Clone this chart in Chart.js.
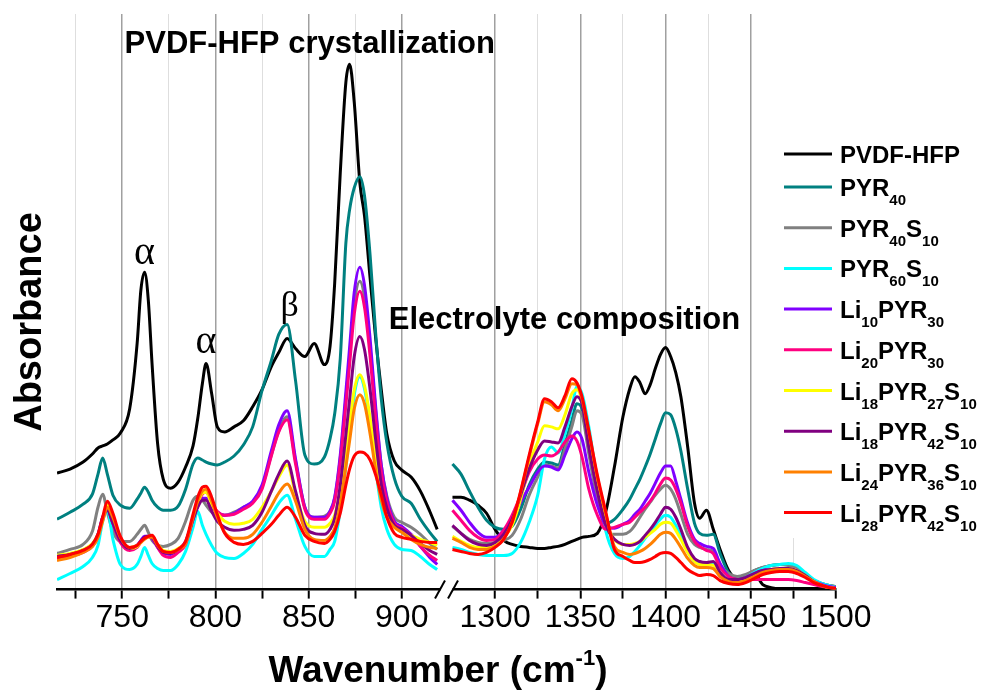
<!DOCTYPE html>
<html>
<head>
<meta charset="utf-8">
<title>PVDF-HFP FTIR</title>
<script src="https://cdn.jsdelivr.net/npm/chart.js@4.4.0/dist/chart.umd.min.js"></script>
<style>
  html, body { margin: 0; padding: 0; background: #fff; }
  #wrap { width: 981px; height: 694px; }
</style>
</head>
<body>
<div id="wrap"><canvas id="myChart" width="981" height="694"></canvas></div>
<script>
"use strict"
// wavenumbers (cm-1) for the two parts of the broken axis
let wnLow = [715, 722, 729, 734, 737, 739.5, 742, 745, 749, 754, 758, 760, 762, 764, 766, 769, 772, 776, 780, 784,
    788, 790.5, 793, 795, 798, 801, 805, 810, 815, 820, 825, 830, 834, 838.5, 843, 848, 853, 858.5, 861.5, 864,
    867, 870, 872, 874.5, 877.5, 880, 883, 886, 889, 892, 896, 900, 905, 910, 915, 919];
let wnHigh = [1275, 1280, 1285, 1290, 1295, 1300, 1305, 1310, 1315, 1320, 1325, 1329, 1333, 1337, 1341, 1345, 1348,
    1351, 1355, 1360, 1365, 1370, 1375, 1379, 1382, 1385, 1388, 1391, 1394, 1397, 1400, 1403, 1406, 1409, 1413,
    1417, 1420, 1424, 1428, 1432, 1437, 1442, 1447, 1452, 1457, 1462, 1467, 1472, 1477, 1482, 1487, 1492, 1496, 1500];
let tickLow = [725, 750, 775, 800, 825, 850, 875, 900];
let tickHigh = [1300, 1325, 1350, 1375, 1400, 1425, 1450, 1475, 1500];

// "_" marks a subscript number
let labels = ['PVDF-HFP', 'PYR_40', 'PYR_40S_10', 'PYR_60S_10', 'Li_10PYR_30', 'Li_20PYR_30',
    'Li_18PYR_27S_10', 'Li_18PYR_42S_10', 'Li_24PYR_36S_10', 'Li_28PYR_42S_10'];
let colors = ['#000000', '#008080', '#808080', '#00ffff', '#8000ff', '#ff0080', '#ffff00', '#800080', '#ff8000', '#ff0000'];

// absorbance (a.u.), 700-920 cm-1 part
let pvdfLow = [1.16, 1.20, 1.27, 1.35, 1.41, 1.43, 1.45, 1.49, 1.56, 1.80, 2.45, 2.98, 3.16, 2.88, 2.25, 1.45, 1.10, 1.01, 1.07, 1.22,
    1.43, 1.70, 2.05, 2.25, 1.95, 1.62, 1.57, 1.62, 1.68, 1.82, 1.99, 2.22, 2.36, 2.50, 2.40, 2.32, 2.45, 2.24, 2.42, 3.05,
    4.15, 5.05, 5.23, 4.85, 4.05, 3.72, 3.10, 2.50, 1.99, 1.55, 1.28, 1.19, 1.12, 0.98, 0.78, 0.60];
let pyr40Low = [0.70, 0.77, 0.85, 0.95, 1.15, 1.31, 1.15, 0.94, 0.84, 0.81, 0.90, 0.96, 1.02, 0.97, 0.89, 0.82, 0.79, 0.79, 0.83, 1.00,
    1.25, 1.31, 1.29, 1.27, 1.25, 1.24, 1.27, 1.33, 1.44, 1.62, 1.98, 2.28, 2.54, 2.64, 2.08, 1.34, 1.25, 1.32, 1.50, 1.75,
    2.30, 3.45, 3.78, 4.00, 4.11, 3.92, 3.33, 2.55, 1.90, 1.46, 1.11, 0.93, 0.86, 0.70, 0.57, 0.48];
let pyr40s10Low = [0.36, 0.40, 0.45, 0.58, 0.82, 0.95, 0.77, 0.58, 0.48, 0.48, 0.55, 0.60, 0.64, 0.57, 0.49, 0.44, 0.43, 0.45, 0.51, 0.68,
    0.89, 0.93, 0.89, 0.84, 0.77, 0.74, 0.74, 0.77, 0.82, 0.87, 1.02, 1.34, 1.58, 1.72, 1.28, 0.82, 0.72, 0.73, 0.78, 0.91,
    1.31, 1.90, 2.32, 2.84, 3.07, 2.91, 2.41, 1.78, 1.24, 0.93, 0.72, 0.67, 0.62, 0.55, 0.46, 0.40];
let pyr60s10Low = [0.10, 0.16, 0.23, 0.32, 0.44, 0.68, 0.79, 0.50, 0.25, 0.20, 0.25, 0.33, 0.42, 0.34, 0.26, 0.21, 0.19, 0.19, 0.25, 0.38,
    0.62, 0.78, 0.64, 0.55, 0.44, 0.36, 0.32, 0.31, 0.36, 0.45, 0.60, 0.74, 0.86, 0.94, 0.70, 0.43, 0.33, 0.33, 0.40, 0.48,
    0.79, 1.23, 1.55, 1.94, 2.12, 2.00, 1.65, 1.20, 0.82, 0.60, 0.45, 0.40, 0.39, 0.33, 0.25, 0.20];
let li10Low = [0.33, 0.35, 0.39, 0.45, 0.55, 0.72, 0.80, 0.66, 0.48, 0.40, 0.44, 0.49, 0.53, 0.53, 0.51, 0.42, 0.36, 0.35, 0.40, 0.48,
    0.70, 0.83, 0.91, 0.91, 0.82, 0.77, 0.74, 0.76, 0.82, 0.88, 1.04, 1.38, 1.64, 1.78, 1.30, 0.82, 0.72, 0.72, 0.78, 0.92,
    1.34, 1.97, 2.41, 2.96, 3.21, 3.03, 2.50, 1.82, 1.24, 0.91, 0.68, 0.63, 0.55, 0.43, 0.32, 0.25];
let li20Low = [0.30, 0.33, 0.37, 0.43, 0.53, 0.70, 0.80, 0.66, 0.47, 0.39, 0.42, 0.47, 0.51, 0.53, 0.52, 0.42, 0.34, 0.32, 0.37, 0.45,
    0.70, 0.85, 0.95, 0.97, 0.86, 0.78, 0.74, 0.75, 0.80, 0.86, 1.00, 1.33, 1.57, 1.69, 1.25, 0.80, 0.70, 0.70, 0.76, 0.88,
    1.27, 1.84, 2.24, 2.74, 2.97, 2.81, 2.32, 1.70, 1.17, 0.87, 0.66, 0.61, 0.54, 0.43, 0.34, 0.29];
let li18s27Low = [0.34, 0.36, 0.40, 0.46, 0.55, 0.70, 0.84, 0.72, 0.51, 0.41, 0.43, 0.47, 0.51, 0.53, 0.53, 0.45, 0.39, 0.38, 0.41, 0.47,
    0.72, 0.86, 0.96, 0.97, 0.85, 0.76, 0.68, 0.65, 0.66, 0.70, 0.82, 0.98, 1.12, 1.24, 0.95, 0.68, 0.62, 0.62, 0.66, 0.74,
    1.00, 1.38, 1.65, 1.99, 2.14, 2.03, 1.71, 1.30, 0.95, 0.76, 0.62, 0.58, 0.54, 0.50, 0.47, 0.44];
let li18s42Low = [0.33, 0.35, 0.39, 0.45, 0.55, 0.72, 0.79, 0.66, 0.49, 0.41, 0.44, 0.48, 0.52, 0.53, 0.52, 0.43, 0.37, 0.36, 0.40, 0.47,
    0.70, 0.82, 0.89, 0.89, 0.78, 0.68, 0.62, 0.59, 0.60, 0.64, 0.77, 0.98, 1.15, 1.28, 0.98, 0.64, 0.56, 0.55, 0.60, 0.71,
    1.04, 1.54, 1.89, 2.32, 2.52, 2.39, 1.99, 1.49, 1.05, 0.81, 0.64, 0.60, 0.54, 0.46, 0.39, 0.35];
let li24Low = [0.29, 0.32, 0.37, 0.43, 0.52, 0.68, 0.82, 0.72, 0.52, 0.42, 0.44, 0.47, 0.50, 0.52, 0.52, 0.44, 0.38, 0.37, 0.40, 0.46,
    0.72, 0.88, 0.98, 1.00, 0.88, 0.72, 0.57, 0.51, 0.51, 0.55, 0.67, 0.83, 0.96, 1.05, 0.88, 0.60, 0.50, 0.49, 0.53, 0.61,
    0.85, 1.22, 1.48, 1.80, 1.94, 1.85, 1.55, 1.19, 0.89, 0.72, 0.62, 0.57, 0.50, 0.45, 0.42, 0.41];
let li28Low = [0.32, 0.35, 0.39, 0.45, 0.55, 0.72, 0.88, 0.76, 0.53, 0.42, 0.44, 0.48, 0.51, 0.53, 0.54, 0.45, 0.38, 0.37, 0.40, 0.48,
    0.75, 0.92, 1.02, 1.03, 0.92, 0.75, 0.56, 0.47, 0.45, 0.48, 0.56, 0.65, 0.74, 0.82, 0.72, 0.54, 0.48, 0.46, 0.50, 0.58,
    0.76, 1.04, 1.20, 1.33, 1.37, 1.36, 1.29, 1.14, 0.94, 0.72, 0.56, 0.52, 0.50, 0.48, 0.47, 0.47];

// absorbance (a.u.), 1275-1500 cm-1 part
let pvdfHigh = [0.92, 0.92, 0.89, 0.84, 0.76, 0.60, 0.49, 0.45, 0.43, 0.42, 0.41, 0.41, 0.42, 0.43, 0.45, 0.48, 0.50, 0.52, 0.53, 0.56,
    0.78, 1.22, 1.72, 2.00, 2.12, 2.06, 1.95, 2.04, 2.20, 2.34, 2.41, 2.32, 2.16, 1.92, 1.42, 0.86, 0.71, 0.79, 0.60, 0.40,
    0.19, 0.11, 0.12, 0.16, 0.05, 0.02, 0.01, 0.01, 0.01, 0.01, 0.01, 0.01, 0.00, 0.00];
let pyr40High = [1.25, 1.15, 0.98, 0.82, 0.69, 0.62, 0.60, 0.63, 0.80, 1.04, 1.20, 1.27, 1.26, 1.24, 1.45, 1.68, 1.85, 1.80, 1.40, 0.95,
    0.66, 0.70, 0.80, 0.90, 1.00, 1.10, 1.22, 1.35, 1.50, 1.65, 1.76, 1.74, 1.60, 1.38, 1.00, 0.66, 0.56, 0.54, 0.55, 0.36,
    0.17, 0.12, 0.14, 0.19, 0.22, 0.24, 0.25, 0.25, 0.23, 0.15, 0.09, 0.06, 0.04, 0.03];
let pyr40s10High = [0.63, 0.56, 0.50, 0.47, 0.46, 0.47, 0.49, 0.54, 0.70, 0.94, 1.12, 1.24, 1.23, 1.21, 1.40, 1.62, 1.78, 1.74, 1.35, 0.90,
    0.60, 0.55, 0.55, 0.58, 0.64, 0.72, 0.80, 0.87, 0.94, 1.00, 1.04, 1.00, 0.90, 0.75, 0.55, 0.45, 0.42, 0.40, 0.38, 0.25,
    0.16, 0.13, 0.15, 0.19, 0.22, 0.24, 0.25, 0.24, 0.22, 0.15, 0.09, 0.06, 0.04, 0.03];
let pyr60s10High = [0.42, 0.40, 0.37, 0.35, 0.34, 0.34, 0.34, 0.36, 0.47, 0.67, 0.94, 1.30, 1.42, 1.36, 1.55, 1.80, 2.02, 1.95, 1.62, 1.07,
    0.58, 0.36, 0.31, 0.33, 0.38, 0.44, 0.51, 0.57, 0.64, 0.70, 0.74, 0.72, 0.64, 0.53, 0.38, 0.28, 0.26, 0.26, 0.25, 0.16,
    0.10, 0.09, 0.12, 0.17, 0.21, 0.24, 0.25, 0.26, 0.24, 0.17, 0.10, 0.06, 0.04, 0.02];
let li10High = [0.89, 0.79, 0.67, 0.57, 0.52, 0.52, 0.59, 0.70, 0.87, 1.02, 1.17, 1.23, 1.22, 1.19, 1.34, 1.50, 1.57, 1.50, 1.17, 0.84,
    0.64, 0.61, 0.65, 0.69, 0.75, 0.80, 0.88, 0.96, 1.06, 1.16, 1.23, 1.23, 1.08, 0.90, 0.66, 0.50, 0.46, 0.43, 0.41, 0.26,
    0.13, 0.10, 0.12, 0.16, 0.19, 0.20, 0.20, 0.20, 0.18, 0.13, 0.08, 0.05, 0.03, 0.02];
let li20High = [0.79, 0.69, 0.59, 0.52, 0.49, 0.50, 0.59, 0.74, 0.94, 1.17, 1.30, 1.34, 1.33, 1.37, 1.47, 1.53, 1.48, 1.32, 1.00, 0.74,
    0.60, 0.62, 0.65, 0.67, 0.72, 0.77, 0.82, 0.88, 0.96, 1.05, 1.11, 1.09, 1.00, 0.86, 0.63, 0.48, 0.43, 0.39, 0.36, 0.22,
    0.13, 0.10, 0.10, 0.10, 0.10, 0.10, 0.10, 0.10, 0.09, 0.07, 0.05, 0.03, 0.02, 0.01];
let li18s27High = [0.53, 0.48, 0.44, 0.42, 0.42, 0.45, 0.52, 0.64, 0.90, 1.24, 1.47, 1.63, 1.62, 1.60, 1.74, 1.95, 1.99, 1.88, 1.50, 1.02,
    0.67, 0.50, 0.45, 0.45, 0.46, 0.48, 0.52, 0.56, 0.60, 0.65, 0.67, 0.66, 0.59, 0.50, 0.37, 0.28, 0.25, 0.25, 0.24, 0.15,
    0.09, 0.08, 0.10, 0.14, 0.18, 0.20, 0.21, 0.21, 0.19, 0.14, 0.08, 0.04, 0.02, 0.01];
let li18s42High = [0.64, 0.56, 0.49, 0.45, 0.44, 0.47, 0.55, 0.70, 0.94, 1.20, 1.39, 1.48, 1.47, 1.46, 1.62, 1.82, 1.92, 1.85, 1.42, 0.98,
    0.64, 0.50, 0.45, 0.44, 0.45, 0.48, 0.54, 0.60, 0.67, 0.75, 0.82, 0.80, 0.72, 0.60, 0.42, 0.31, 0.28, 0.27, 0.28, 0.17,
    0.10, 0.10, 0.12, 0.16, 0.19, 0.20, 0.21, 0.21, 0.19, 0.14, 0.08, 0.04, 0.02, 0.01];
let li24High = [0.51, 0.47, 0.42, 0.40, 0.40, 0.43, 0.50, 0.67, 0.97, 1.32, 1.65, 1.87, 1.84, 1.78, 1.90, 2.05, 2.04, 1.90, 1.57, 1.12,
    0.75, 0.43, 0.37, 0.35, 0.36, 0.38, 0.41, 0.45, 0.50, 0.55, 0.57, 0.56, 0.50, 0.42, 0.31, 0.24, 0.22, 0.22, 0.21, 0.13,
    0.08, 0.07, 0.09, 0.13, 0.17, 0.19, 0.20, 0.20, 0.18, 0.13, 0.08, 0.04, 0.02, 0.01];
let li28High = [0.40, 0.38, 0.36, 0.35, 0.37, 0.42, 0.50, 0.67, 0.98, 1.34, 1.67, 1.90, 1.87, 1.81, 1.93, 2.10, 2.06, 1.92, 1.58, 1.14,
    0.77, 0.40, 0.33, 0.29, 0.27, 0.27, 0.28, 0.30, 0.33, 0.36, 0.37, 0.36, 0.32, 0.27, 0.20, 0.16, 0.14, 0.15, 0.14, 0.09,
    0.06, 0.05, 0.07, 0.11, 0.15, 0.17, 0.18, 0.18, 0.16, 0.12, 0.07, 0.04, 0.02, 0.01];

let lowSets = [pvdfLow, pyr40Low, pyr40s10Low, pyr60s10Low, li10Low, li20Low, li18s27Low, li18s42Low, li24Low, li28Low];
let highSets = [pvdfHigh, pyr40High, pyr40s10High, pyr60s10High, li10High, li20High, li18s27High, li18s42High, li24High, li28High];

let sansFont = "'Liberation Sans', Arial, Helvetica, sans-serif";
let serifFont = "'Liberation Serif', 'Times New Roman', serif";

// labels put on the plot, placed in data units
let notes = [
    {text: 'PVDF-HFP crystallization', x: 850.6, y: 5.43, axis: 'x', font: 'bold 31px ' + sansFont},
    {text: 'Electrolyte composition', x: 1340.7, y: 2.68, axis: 'x2', font: 'bold 31px ' + sansFont},
    {text: '\u03b1', x: 761.9, y: 3.35, axis: 'x', font: '40px ' + serifFont},
    {text: '\u03b1', x: 794.9, y: 2.46, axis: 'x', font: '40px ' + serifFont},
    {text: '\u03b2', x: 839.9, y: 2.82, axis: 'x', font: '36px ' + serifFont}
];

function makeSet(i, xs, ys, axisId) {
    return {
        label: labels[i],
        data: xs.map((x, j) => ({x: x, y: ys[j]})),
        xAxisID: axisId,
        yAxisID: 'y',
        borderColor: colors[i],
        backgroundColor: colors[i],
        borderWidth: 3,
        pointRadius: 0,
        fill: false,
        cubicInterpolationMode: 'monotone',
        order: labels.length - i
    };
}

let sets = [];
for (let i = 0; i < labels.length; i++) {
    sets.push(makeSet(i, wnLow, lowSets[i], 'x'));
    sets.push(makeSet(i, wnHigh, highSets[i], 'x2'));
}

// writes "Li_18PYR_27S_10" with real subscripts, returns the end x
function drawRich(ctx, markup, x, y, size, subSize, subShift) {
    let parts = markup.split(/(_\d+)/).filter(p => p.length > 0);
    for (let p of parts) {
        let isSub = p[0] === '_';
        let txt = isSub ? p.slice(1) : p;
        ctx.font = 'bold ' + (isSub ? subSize : size) + 'px ' + sansFont;
        ctx.fillText(txt, x, isSub ? y + subShift : y);
        x += ctx.measureText(txt).width;
    }
    return x;
}

let notesPlugin = {
    id: 'notes',
    afterDatasetsDraw(chart) {
        let ctx = chart.ctx;
        ctx.save();
        ctx.fillStyle = '#000';
        ctx.textAlign = 'center';
        ctx.textBaseline = 'middle';
        for (let n of notes) {
            ctx.font = n.font;
            ctx.fillText(n.text, chart.scales[n.axis].getPixelForValue(n.x), chart.scales.y.getPixelForValue(n.y));
        }
        ctx.restore();
    }
};

let breakPlugin = {
    id: 'axisBreak',
    afterDraw(chart) {
        let ctx = chart.ctx;
        let xb = chart.scales.x.right;
        let yb = chart.chartArea.bottom;
        ctx.save();
        ctx.fillStyle = '#fff';
        ctx.fillRect(xb - 6, yb - 3, 12, 6);
        ctx.strokeStyle = '#000';
        ctx.lineWidth = 2;
        for (let dx of [-6.5, 6.5]) {
            ctx.beginPath();
            ctx.moveTo(xb + dx - 5, yb + 9);
            ctx.lineTo(xb + dx + 5, yb - 9);
            ctx.stroke();
        }
        ctx.restore();
    }
};

let titlesPlugin = {
    id: 'axisTitles',
    afterDraw(chart) {
        let ctx = chart.ctx;
        ctx.save();
        ctx.fillStyle = '#000';
        // y title
        ctx.translate(31, 322);
        ctx.rotate(-Math.PI / 2);
        ctx.font = 'bold 38px ' + sansFont;
        ctx.textAlign = 'center';
        ctx.textBaseline = 'middle';
        ctx.fillText('Absorbance', 0, 0);
        ctx.setTransform(1, 0, 0, 1, 0, 0);
        // x title with superscript
        ctx.textAlign = 'left';
        ctx.textBaseline = 'alphabetic';
        let big = 'bold 37px ' + sansFont;
        let small = 'bold 22px ' + sansFont;
        ctx.font = big;
        let w1 = ctx.measureText('Wavenumber (cm').width;
        let w3 = ctx.measureText(')').width;
        ctx.font = small;
        let w2 = ctx.measureText('-1').width;
        let x = 438 - (w1 + w2 + w3) / 2;
        let base = 682;
        ctx.font = big;
        ctx.fillText('Wavenumber (cm', x, base);
        ctx.font = small;
        ctx.fillText('-1', x + w1, base - 17);
        ctx.font = big;
        ctx.fillText(')', x + w1 + w2, base);
        ctx.restore();
    }
};

let legendPlugin = {
    id: 'sideLegend',
    afterDraw(chart) {
        let ctx = chart.ctx;
        ctx.save();
        ctx.fillStyle = '#fff';
        ctx.fillRect(772, 0, 209, 538);
        ctx.textAlign = 'left';
        ctx.textBaseline = 'alphabetic';
        for (let i = 0; i < labels.length; i++) {
            let y = i === 0 ? 154 : 187 + (i - 1) * 40.7;
            ctx.strokeStyle = colors[i];
            ctx.lineWidth = 3;
            ctx.beginPath();
            ctx.moveTo(784, y);
            ctx.lineTo(832, y);
            ctx.stroke();
            ctx.fillStyle = '#000';
            drawRich(ctx, labels[i], 840, y + 9, 24, 15, 9);
        }
        ctx.restore();
    }
};

function xAxis(min, max, tickValues, lastHidden) {
    return {
        type: 'linear',
        position: 'bottom',
        stack: 'wavenumber',
        stackWeight: 1,
        min: min,
        max: max,
        afterBuildTicks: function (axis) {
            axis.ticks = tickValues.map(v => ({value: v}));
        },
        ticks: {
            autoSkip: false,
            maxRotation: 0,
            padding: 0,
            color: '#000',
            font: {family: sansFont, size: 32},
            callback: function (value) {
                return value % 50 === 0 ? String(value) : '';
            }
        },
        grid: {
            color: function (c) {
                if (!c.tick) return '#aaaaaa';
                if (c.tick.value === lastHidden) return 'rgba(0,0,0,0)';
                return c.tick.value % 50 === 0 ? '#a0a0a0' : '#dedede';
            },
            lineWidth: function (c) {
                return c.tick && c.tick.value % 50 === 0 ? 1.5 : 1;
            },
            tickColor: '#000',
            tickWidth: 2,
            tickLength: 9
        },
        border: {color: '#000', width: 2.5}
    };
}

let ctx = document.getElementById('myChart').getContext('2d');
let myChart = new Chart(ctx, {
    type: 'line',
    data: {datasets: sets},
    options: {
        responsive: false,
        animation: false,
        devicePixelRatio: 1,
        layout: {padding: {left: 57, right: 145, top: 14, bottom: 57}},
        plugins: {
            legend: {display: false},
            tooltip: {enabled: false}
        },
        scales: {
            x: xAxis(715, 924, tickLow, null),
            x2: xAxis(1271.5, 1500, tickHigh, 1500),
            y: {display: false, min: 0, max: 5.73}
        }
    },
    plugins: [notesPlugin, breakPlugin, titlesPlugin, legendPlugin]
});
</script>
</body>
</html>
